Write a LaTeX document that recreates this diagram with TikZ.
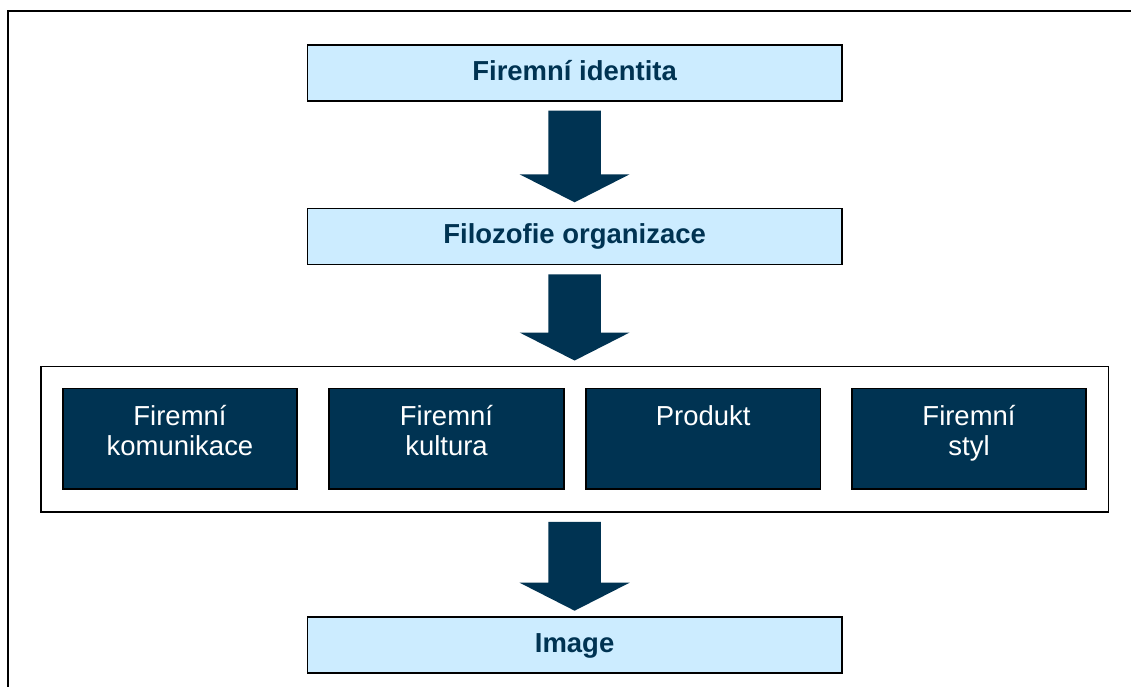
\documentclass[tikz,border=0pt]{standalone}
\usepackage{fontspec}
\setmainfont{Liberation Sans}
\usetikzlibrary{calc}
\definecolor{navy}{RGB}{0,51,82}
\definecolor{lightblue}{RGB}{204,236,255}
\newcommand\firstline{\rule{0pt}{15.6pt}}
\newcommand\blockarrow[2]{%
  \fill[navy] ($(#1.south)+(-26.3,10)$) -- ($(#1.south)+(26.3,10)$)
    -- ($(#2.north)+(26.3,-34)$) -- ($(#2.north)+(55,-34)$)
    -- ($(#2.north)+(0,-6)$) -- ($(#2.north)+(-55,-34)$)
    -- ($(#2.north)+(-26.3,-34)$) -- cycle;}
\begin{document}
\begin{tikzpicture}[x=0.75pt,y=-0.75pt,
  frame/.style={draw=black,line width=1.5pt},
  lightbox/.style={draw=black,line width=1.2pt,fill=lightblue,minimum width=400.7pt,minimum height=42pt,
    inner sep=0pt,outer sep=0pt,text=navy,font=\fontsize{20.6}{22.5}\selectfont\bfseries,
    text height=14pt,text depth=3.05pt},
  groupbox/.style={draw=black,line width=1.3pt,minimum width=800.9pt,minimum height=109.1pt,inner sep=0pt,outer sep=0pt},
  darkbox/.style={draw=black,line width=1.2pt,fill=navy,minimum width=175.9pt,minimum height=75.5pt,inner sep=0pt,outer sep=0pt},
  darklabel/.style={anchor=north,inner sep=0pt,align=center,text=white,font=\fontsize{20.6}{22.5}\selectfont}]
\useasboundingbox (0,0) rectangle (1131,686);
\fill[white] (0,0) rectangle (1131,686);
\coordinate (fbl) at (7.7,690);
\coordinate (ftr) at (1135,11);
\draw[frame] (fbl) |- (ftr);
\node[lightbox] (fi) at (574.6,72.7) {Firemní identita};
\node[lightbox] (fo) at (574.6,236.3) {Filozofie organizace};
\node[groupbox] (grp) at (574.6,439.25) {};
\node[darkbox] (k1) at (180,438.9) {};
\node[darkbox] (k2) at (446.5,438.9) {};
\node[darkbox] (k3) at (703.2,438.9) {};
\node[darkbox] (k4) at (969,438.9) {};
\node[darklabel] (k1t) at ($(k1.north)+(0,15.4)$) {\firstline Firemní\\komunikace};
\node[darklabel] (k2t) at ($(k2.north)+(0,15.4)$) {\firstline Firemní\\kultura};
\node[darklabel] (k3t) at ($(k3.north)+(0,15.4)$) {\firstline Produkt};
\node[darklabel] (k4t) at ($(k4.north)+(0,15.4)$) {\firstline Firemní\\styl};
\node[lightbox] (img) at (574.6,644.7) {Image};
\blockarrow{fi}{fo}
\blockarrow{fo}{grp}
\blockarrow{grp}{img}
\end{tikzpicture}
\end{document}
